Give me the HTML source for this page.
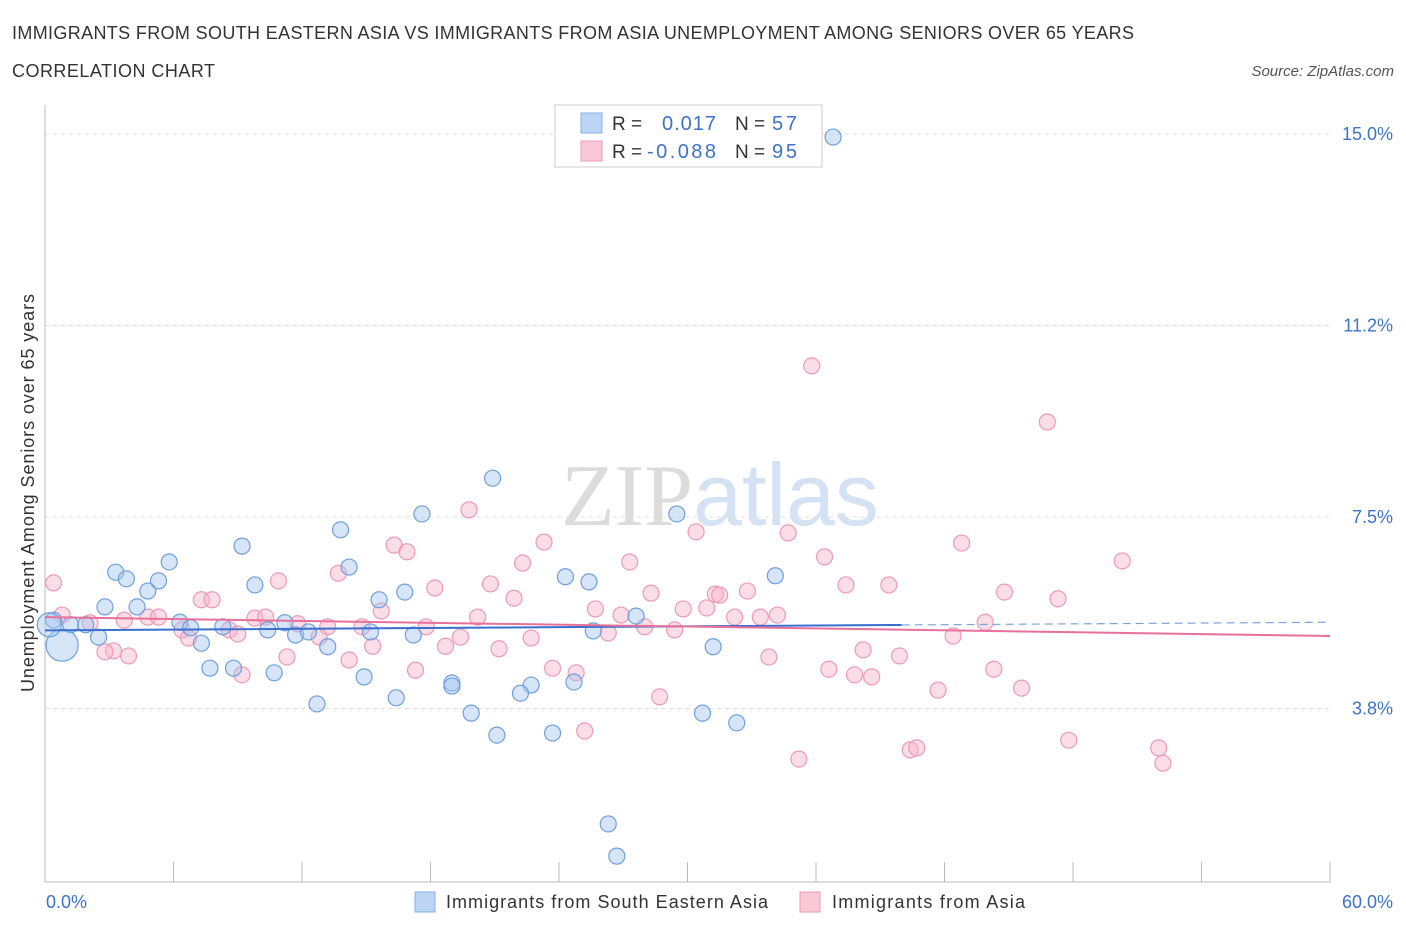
<!DOCTYPE html>
<html><head><meta charset="utf-8"><style>
body{margin:0;background:#fff;font-family:"Liberation Sans",sans-serif;}
svg text{font-family:"Liberation Sans",sans-serif;}
</style></head><body>
<svg id="chart" width="1406" height="930">
<text x="12" y="39" font-size="18" fill="#333" textLength="1122" lengthAdjust="spacing">IMMIGRANTS FROM SOUTH EASTERN ASIA VS IMMIGRANTS FROM ASIA UNEMPLOYMENT AMONG SENIORS OVER 65 YEARS</text>
<text x="12" y="77" font-size="18" fill="#333" textLength="203">CORRELATION CHART</text>
<text x="1394" y="76" font-size="15" fill="#555" font-style="italic" text-anchor="end">Source: ZipAtlas.com</text>
<text x="720" y="525" font-size="88" fill="#e4e4e4" text-anchor="middle" font-family="Liberation Serif"><tspan fill="#dcdcdc" font-family="Liberation Serif">ZIP</tspan><tspan fill="#d4e2f4" font-family="Liberation Sans">atlas</tspan></text>
<text transform="translate(34,493) rotate(-90)" font-size="18" fill="#333" text-anchor="middle" textLength="398">Unemployment Among Seniors over 65 years</text>
<g id="grid"></g><g id="marks"></g>
<g>
<rect x="555" y="105" width="267" height="62" fill="#fff" stroke="#ccc"/>
<rect x="581" y="113" width="21" height="20" fill="#bcd5f5" stroke="#86b0e8"/>
<rect x="581" y="141" width="21" height="20" fill="#f9c8d7" stroke="#ee9ab6"/>
<text x="612" y="130" font-size="19" fill="#333">R =</text><text x="662" y="130" font-size="20" fill="#3d73c9" textLength="54">0.017</text>
<text x="735" y="130" font-size="19" fill="#333">N =</text><text x="772" y="130" font-size="20" fill="#3d73c9" textLength="25">57</text>
<text x="612" y="158" font-size="19" fill="#333">R =</text><text x="647" y="158" font-size="20" fill="#3d73c9" textLength="69">-0.088</text>
<text x="735" y="158" font-size="19" fill="#333">N =</text><text x="772" y="158" font-size="20" fill="#3d73c9" textLength="25">95</text>
</g>
<g>
<rect x="415" y="892" width="20" height="20" fill="#bcd5f5" stroke="#86b0e8"/>
<text x="446" y="908" font-size="18" fill="#333" textLength="322">Immigrants from South Eastern Asia</text>
<rect x="800" y="892" width="20" height="20" fill="#f9c8d7" stroke="#ee9ab6"/>
<text x="832" y="908" font-size="18" fill="#333" textLength="193">Immigrants from Asia</text>
</g>
</svg>
<script>
const blueX=[36.8,20.9,29.5,17.6,13.8,9.2,5.8,14.2,3.3,3.8,5.3,4.8,9.8,16.8,24.3,25.4,34.1,15.6,2.8,4.3,0.4,1.2,1.9,2.5,6.3,6.8,8.3,10.4,11.2,11.7,12.3,15.2,17.2,25.6,27.6,7.3,13.2,31.2,7.7,8.8,10.7,14.9,19.0,19.0,22.7,22.2,24.7,16.4,12.7,19.9,30.7,32.3,21.1,23.7,26.3,26.7,0.8,0.2];
const blueY=[14.94,8.26,7.56,7.56,7.25,6.93,6.62,6.52,6.42,6.29,6.25,6.05,6.17,6.03,6.33,6.23,6.35,5.88,5.74,5.74,5.48,5.39,5.39,5.15,5.44,5.33,5.35,5.29,5.43,5.19,5.25,5.25,5.19,5.27,5.56,5.03,4.96,4.96,4.54,4.54,4.45,4.37,4.25,4.19,4.21,4.05,4.27,3.96,3.84,3.66,3.66,3.47,3.23,3.27,1.49,0.86,4.99,5.39];
const blueR=[8,8,8,8,8,8,8,8,8,8,8,8,8,8,8,8,8,8,8,8,8,8,8,8,8,8,8,8,8,8,8,8,8,8,8,8,8,8,8,8,8,8,8,8,8,8,8,8,8,8,8,8,8,8,8,8,16,12];
const pinkX=[35.8,46.8,19.8,30.4,16.3,16.9,23.3,22.3,27.3,36.4,42.8,34.7,50.3,13.7,10.9,18.2,20.8,21.9,28.3,31.3,32.8,37.4,39.4,44.8,47.3,0.4,7.3,7.8,3.7,4.8,5.3,6.4,8.6,9.8,10.3,11.8,13.2,14.8,15.7,17.8,20.2,25.7,26.9,28.0,29.8,30.9,31.5,32.2,33.4,34.2,43.9,0.8,2.1,3.2,3.9,6.7,9.0,11.3,12.8,14.2,15.3,17.3,18.7,19.4,21.2,22.7,23.7,24.8,26.3,29.4,33.8,36.6,37.8,38.2,38.6,39.9,42.4,41.7,44.3,45.6,9.2,28.7,25.2,35.2,40.4,40.7,47.8,52.0,52.2,2.8];
const pinkY=[10.46,9.36,7.64,7.21,6.95,6.82,7.01,6.60,6.62,6.72,6.99,7.19,6.64,6.40,6.25,6.11,6.19,5.91,6.01,5.99,6.05,6.17,6.17,6.03,5.90,6.21,5.88,5.88,5.48,5.54,5.54,5.29,5.29,5.52,5.54,5.41,5.35,5.35,5.66,5.35,5.54,5.70,5.58,5.35,5.70,5.72,5.97,5.54,5.54,5.58,5.44,5.58,5.43,4.88,4.78,5.13,5.21,4.76,5.15,4.70,4.97,4.50,4.97,5.15,4.92,5.13,4.54,4.45,5.23,5.29,4.76,4.52,4.41,4.90,4.37,4.78,5.17,4.11,4.52,4.15,4.41,3.98,3.31,2.76,2.94,2.98,3.13,2.98,2.68,4.86];
const yTicks=[15,11.25,7.5,3.75];
const yTickLabels=["15.0%","11.2%","7.5%","3.8%"];
const blueTrend=[5.28,5.44];
const pinkTrend=[5.54,5.17];
const NS="http://www.w3.org/2000/svg";
const X=v=>45+v/60*1285;
const Y=v=>134+(15-v)*51.07;
const grid=document.getElementById('grid'),marks=document.getElementById('marks');
function mk(tag,attrs,parent){const e=document.createElementNS(NS,tag);for(const k in attrs)e.setAttribute(k,attrs[k]);parent.appendChild(e);return e;}
mk('line',{x1:45,y1:105,x2:45,y2:882,stroke:'#bbb'},grid);
mk('line',{x1:45,y1:882,x2:1330,y2:882,stroke:'#bbb'},grid);
yTicks.forEach((t,i)=>{
 const l=mk('line',{x1:45,x2:1330,y1:Y(t),y2:Y(t),stroke:'#ddd','stroke-dasharray':'4,4'},grid);
 
 
 const tx=mk('text',{x:1393,y:Y(t)+6,'font-size':18,fill:'#3d73c9','text-anchor':'end'},grid);
 tx.textContent=yTickLabels[i];
 
 
});
for(let i=1;i<=10;i++){const x=45+i*128.5;const l=mk('line',{x1:x,x2:x,y1:862,y2:882,stroke:'#bbb'},grid);
 
 }
let t0=mk('text',{x:46,y:908,'font-size':18,fill:'#3d73c9'},grid);t0.textContent='0.0%';


let t1=mk('text',{x:1393,y:908,'font-size':18,fill:'#3d73c9','text-anchor':'end'},grid);t1.textContent='60.0%';


pinkX.forEach((v,i)=>{const c=mk('circle',{cx:X(v),cy:Y(pinkY[i]),r:8,fill:'rgba(246,180,202,0.45)',stroke:'#ec9ab6','stroke-width':1.2},marks);
 
 });
blueX.forEach((v,i)=>{const c=mk('circle',{cx:X(v),cy:Y(blueY[i]),r:blueR[i],fill:'rgba(165,198,240,0.45)',stroke:'#6f9fde','stroke-width':1.2},marks);
 
 });
const bAt=x=>blueTrend[0]+(blueTrend[1]-blueTrend[0])*x/60;
let bl=mk('line',{x1:X(0),y1:Y(bAt(0)),x2:X(40),y2:Y(bAt(40)),stroke:'#3a6fd0','stroke-width':2},marks);


let bd=mk('line',{x1:X(40),y1:Y(bAt(40)),x2:X(60),y2:Y(bAt(60)),stroke:'#7fa3dd','stroke-width':1.2,'stroke-dasharray':'8,5'},marks);


let pl=mk('line',{x1:X(0),y1:Y(pinkTrend[0]),x2:X(60),y2:Y(pinkTrend[1]),stroke:'#e8709a','stroke-width':2},marks);


</script>
</body></html>
